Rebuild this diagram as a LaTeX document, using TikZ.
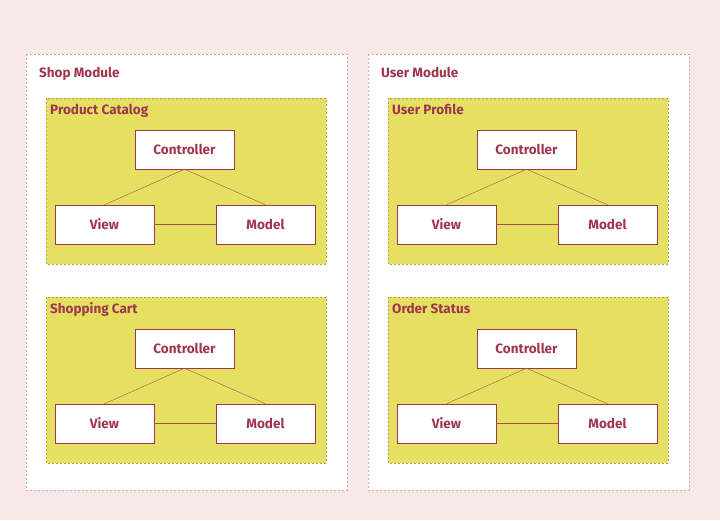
\documentclass[tikz,border=0pt]{standalone}
\usepackage{fontspec}
\setmainfont{Fira Sans}
\definecolor{bgpink}{HTML}{F8E8E8}
\definecolor{modline}{HTML}{D4A8B0}
\definecolor{pkgfill}{HTML}{E6E062}
\definecolor{pkgline}{HTML}{B4A048}
\definecolor{maroon}{HTML}{A0364E}
\definecolor{linkcol}{HTML}{A4504A}
\tikzset{
  module/.style = {fill=white, draw=modline, dash pattern=on 2pt off 2pt},
  pkg/.style = {fill=pkgfill, draw=pkgline, dash pattern=on 2pt off 2pt},
  title/.style = {anchor=base west, inner sep=0pt, text=maroon, font=\fontsize{13.5}{16}\selectfont\bfseries},
  mvcbox/.style = {draw=maroon, fill=white, minimum width=99pt, minimum height=39pt, inner sep=0pt, text=maroon, font=\fontsize{13.5}{16}\selectfont\bfseries},
  link/.style = {draw=linkcol}
}

\begin{document}
\begin{tikzpicture}[x=1pt,y=-1pt]
\fill[bgpink] (0,0) rectangle (720,520);
% the two modules
\draw[module] (26,54) rectangle (347,490);
\draw[module] (368,54) rectangle (689,490);
\node[title] (shop) at (39,77) {Shop Module};
\node[title] (user) at (381,77) {User Module};
% one MVC triple in each package
\foreach \x/\y/\nm/\t in {46/98/pc/Product Catalog, 46/297/sc/Shopping Cart, 388/98/up/User Profile, 388/297/os/Order Status}
{
  \draw[pkg] (\x,\y) rectangle ++(280,166);
  \node[title] (\nm-t) at (\x+4,\y+16.5) {\t};
  \node[mvcbox] (\nm-c) at (\x+138.5,\y+51.5) {Controller};
  \node[mvcbox] (\nm-v) at (\x+58.5,\y+126.5) {View};
  \node[mvcbox] (\nm-m) at (\x+219.5,\y+126.5) {Model};
  \draw[link] (\nm-c.south) -- (\nm-v.north);
  \draw[link] (\nm-c.south) -- (\nm-m.north);
  \draw[link] (\nm-v) -- (\nm-m);
}
\end{tikzpicture}
\end{document}
